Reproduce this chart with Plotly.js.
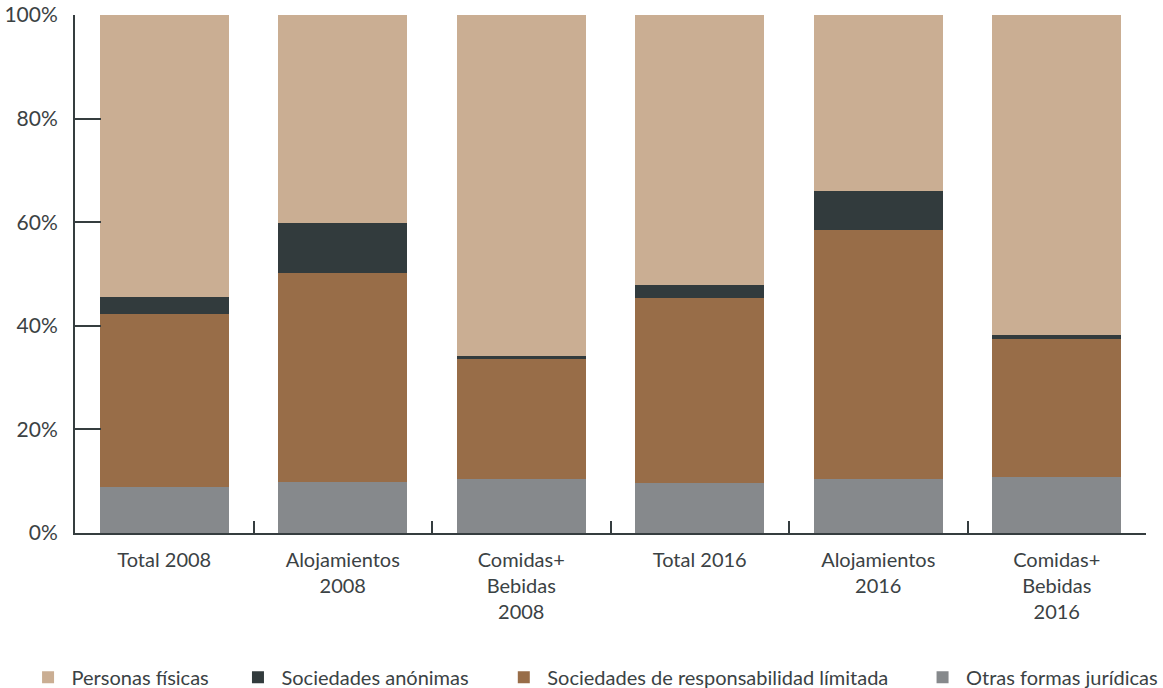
<!DOCTYPE html>
<html>
<head>
<meta charset="utf-8">
<script src="https://cdn.plot.ly/plotly-3.0.1.min.js"></script>
<style>html,body{margin:0;padding:0;background:#fff;}#chart{width:1163px;height:688px;}</style>
</head>
<body>
<div id="chart"></div>
<script>
const categories = ["Total 2008", "Alojamientos<br>2008", "Comidas+<br>Bebidas<br>2008", "Total 2016", "Alojamientos<br>2016", "Comidas+<br>Bebidas<br>2016"];
const otras = [8.8, 9.9, 10.5, 9.7, 10.5, 10.9];
const srl = [33.5, 40.3, 23.0, 35.7, 48.0, 26.6];
const anonimas = [3.3, 9.7, 0.7, 2.5, 7.6, 0.8];
const fisicas = [54.4, 40.1, 65.8, 52.1, 33.9, 61.7];
const yTicks = [0, 20, 40, 60, 80, 100];
const yTickLabels = ["0%", "20%", "40%", "60%", "80%", "100%"];
const seriesNames = ["Personas físicas", "Sociedades anónimas", "Sociedades de responsabilidad límitada", "Otras formas jurídicas"];

const textColor = "#3b4244";
const axisColor = "#353d3f";
const font = "Lato, 'Noto Sans', sans-serif";

const seriesValues = [fisicas, anonimas, srl, otras];
const seriesColors = ["#caae93", "#323b3d", "#986d48", "#86898c"];
const legendIds = ["legend", "legend2", "legend3", "legend4"];
const legendX = [-0.0471, 0.1489, 0.3971, 0.7881];

const data = [];
// stack order bottom to top: otras, srl, anonimas, fisicas
[3, 2, 1, 0].forEach(i => {
  data.push({
    type: "bar",
    x: categories,
    y: seriesValues[i],
    name: seriesNames[i],
    marker: {color: seriesColors[i], line: {width: 0}},
    hoverinfo: "skip",
    legend: legendIds[i]
  });
});

const layout = {
  width: 1163,
  height: 688,
  barmode: "stack",
  bargap: 0.28,
  margin: {l: 75, r: 16.5, t: 15, b: 154.5, autoexpand: false},
  paper_bgcolor: "#ffffff",
  plot_bgcolor: "#ffffff",
  font: {family: font, size: 20, color: textColor},
  showlegend: true,
  xaxis: {
    type: "category",
    tickson: "boundaries",
    ticks: "inside",
    ticklen: 12,
    tickwidth: 2,
    tickcolor: axisColor,
    showline: true,
    linecolor: axisColor,
    linewidth: 2,
    showgrid: false,
    zeroline: false,
    tickfont: {family: font, size: 20, color: textColor},
    ticklabelstandoff: 8,
    fixedrange: true,
    automargin: false
  },
  yaxis: {
    range: [0, 100],
    tickvals: yTicks,
    ticktext: yTickLabels,
    ticks: "inside",
    ticklen: 26,
    tickwidth: 2,
    tickcolor: axisColor,
    showline: true,
    linecolor: axisColor,
    linewidth: 2,
    showgrid: false,
    zeroline: false,
    tickfont: {family: font, size: 21, color: textColor},
    ticklabelstandoff: 11,
    fixedrange: true,
    automargin: false
  }
};

legendIds.forEach((id, i) => {
  layout[id] = {
    orientation: "h",
    x: legendX[i],
    xanchor: "left",
    y: -0.2787,
    yanchor: "middle",
    itemwidth: 37,
    font: {family: font, size: 20, color: textColor},
    bgcolor: "rgba(0,0,0,0)",
    itemclick: false,
    itemdoubleclick: false
  };
});

Plotly.newPlot("chart", data, layout, {displayModeBar: false, staticPlot: true});
</script>
</body>
</html>
